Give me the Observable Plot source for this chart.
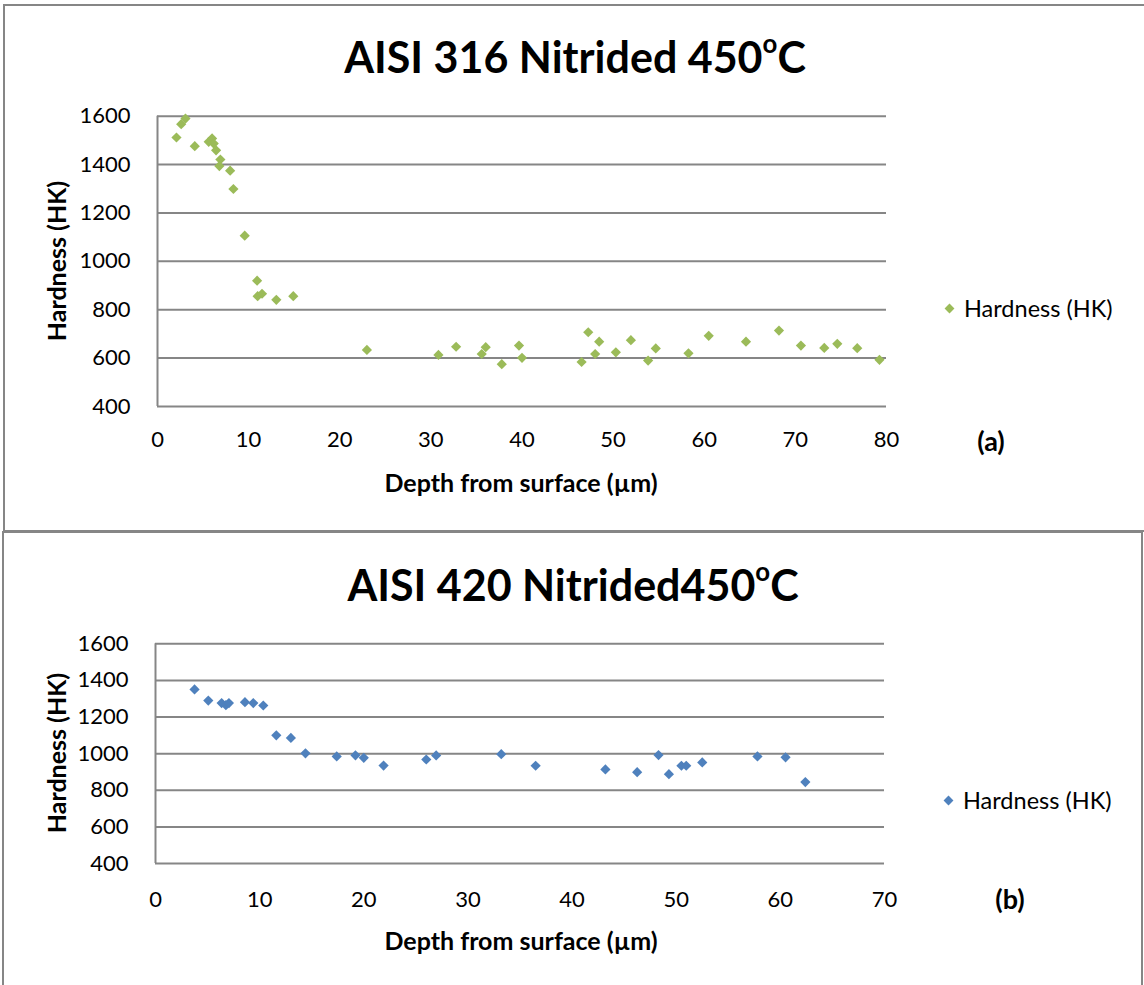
<!DOCTYPE html>
<html>
<head>
<meta charset="utf-8">
<script src="https://cdn.jsdelivr.net/npm/d3@7"></script>
<script src="https://cdn.jsdelivr.net/npm/@observablehq/plot@0.6"></script>
<style>
  html, body { margin: 0; padding: 0; background: #fff; }
  #root { position: relative; width: 1144px; height: 985px; overflow: hidden; font-family: Lato, "Liberation Sans", sans-serif; color: #000; }
  .panel { position: absolute; border: 2px solid #868686; box-sizing: border-box; }
  .abs { position: absolute; white-space: nowrap; }
  .title { font-weight: bold; font-size: 43px; transform: translate(-50%, -50%); }
  .title .deg { font-size: 0.6em; vertical-align: 0.75em; }
  .axt { font-weight: bold; font-size: 25px; transform: translate(-50%, -50%); }
  .axy { font-weight: bold; font-size: 25px; transform: translate(-50%, -50%) rotate(-90deg); }
  .leg { font-size: 23.5px; transform: translateY(-50%); display: flex; align-items: center; }
  .leg i { display: inline-block; width: 7px; height: 7px; transform: rotate(45deg); margin-right: 11px; }
  .tag { font-weight: bold; font-size: 27px; transform: translate(-50%, -50%); }
  svg { position: absolute; left: 0; }
</style>
</head>
<body>
<div id="root"></div>
<script>
// ---- Data: AISI 316 Nitrided 450°C ----
const depth316 = [3.07, 2.60, 2.08, 4.09, 5.62, 5.99, 6.17, 6.43, 6.90, 6.79, 7.97, 8.33, 9.57, 10.93, 10.99, 11.47, 13.04, 14.90,
  22.98, 30.83, 32.77, 35.58, 36.02, 37.78, 39.67, 40.0, 46.54, 47.27, 48.47, 48.03, 50.30, 51.95, 53.84, 54.68,
  58.27, 60.49, 64.58, 68.2, 70.61, 73.17, 74.6, 76.79, 79.23];
const hard316 = [1590, 1567, 1512, 1476, 1494, 1508, 1487, 1459, 1421, 1394, 1375, 1299, 1106, 920, 856, 866, 841, 856,
  634, 613, 647, 617, 645, 575, 652, 601, 584, 707, 668, 617, 624, 674, 590, 640,
  620, 692, 668, 714, 652, 642, 659, 641, 593];

// ---- Data: AISI 420 Nitrided 450°C ----
const depth420 = [3.75, 5.07, 6.35, 6.76, 7.05, 8.59, 9.39, 10.35, 11.6, 13.0, 14.4, 17.4, 19.2, 20.0, 21.9, 26.0, 26.95,
  33.2, 36.5, 43.2, 46.25, 48.3, 49.3, 50.5, 50.96, 52.5, 57.8, 60.5, 62.4];
const hard420 = [1351, 1290, 1276, 1265, 1276, 1281, 1276, 1263, 1100, 1086, 1002, 985, 991, 977, 935, 968, 990,
  997, 934, 914, 899, 992, 888, 934, 934, 952, 985, 980, 845];

const yTicks = [400, 600, 800, 1000, 1200, 1400, 1600];
const xTicksA = [0, 10, 20, 30, 40, 50, 60, 70, 80];
const xTicksB = [0, 10, 20, 30, 40, 50, 60, 70];
const seriesName = "Hardness (HK)";
const titleA = ["AISI 316 Nitrided 450", "C"];
const titleB = ["AISI 420 Nitrided450", "C"];
const xLabel = "Depth from surface (µm)";
const yLabel = "Hardness (HK)";

const green = "#9BBB59", blue = "#4F81BD", grid = "#868686";

const root = document.getElementById("root");

function chart(xs, ys, xTicks, color, box) {
  const data = xs.map((x, i) => ({x, y: ys[i]}));
  return Plot.plot({
    width: 1144,
    height: box.height,
    marginLeft: box.left,
    marginRight: 1144 - box.right,
    marginTop: box.top,
    marginBottom: box.height - box.bottom,
    style: {fontFamily: "Lato, 'Liberation Sans', sans-serif", fontSize: "22px", color: "#000", background: "transparent", overflow: "visible"},
    x: {domain: [xTicks[0], xTicks[xTicks.length - 1]], ticks: xTicks, tickSize: 0, tickPadding: box.xPad, tickFormat: d3.format("d"), label: null},
    y: {domain: [400, 1600], ticks: yTicks, tickSize: 0, tickPadding: 27, tickFormat: d3.format("d"), label: null},
    marks: [
      Plot.ruleY(yTicks, {stroke: grid, strokeWidth: 2}),
      Plot.ruleX([0], {stroke: grid, strokeWidth: 2}),
      Plot.dot(data, {x: "x", y: "y", symbol: "diamond2", r: 4.6, fill: color, stroke: "none"})
    ]
  });
}

function add(html, cls, left, top, extra) {
  const d = document.createElement("div");
  d.className = "abs " + cls;
  d.style.left = left + "px";
  d.style.top = top + "px";
  if (extra) Object.assign(d.style, extra);
  d.innerHTML = html;
  root.appendChild(d);
  return d;
}

// Panels
add("", "panel", 3, 4, {width: "1160px", height: "528px"});
add("", "panel", 2, 531, {width: "1141px", height: "480px"});

// Top chart
const svgA = chart(depth316, hard316, xTicksA, green, {height: 530, left: 157, right: 886, top: 115.7, bottom: 406, xPad: 25});
svgA.style.top = "0px";
root.appendChild(svgA);
add(`${titleA[0]}<span class="deg">o</span>${titleA[1]}`, "title", 575, 55);
add(yLabel, "axy", 56, 261);
add(xLabel, "axt", 521, 482);
add(`<i style="background:${green}"></i>${seriesName}`, "leg", 946, 308);
add("(a)", "tag", 991, 440);

// Bottom chart
const topB = 531;
const svgB = chart(depth420, hard420, xTicksB, blue, {height: 454, left: 155, right: 884, top: 643.3 - topB, bottom: 863 - topB, xPad: 28});
svgB.style.top = topB + "px";
root.appendChild(svgB);
add(`${titleB[0]}<span class="deg">o</span>${titleB[1]}`, "title", 573, 583);
add(yLabel, "axy", 56, 753);
add(xLabel, "axt", 521, 940);
add(`<i style="background:${blue}"></i>${seriesName}`, "leg", 945, 800);
add("(b)", "tag", 1010, 898);
</script>
</body>
</html>
